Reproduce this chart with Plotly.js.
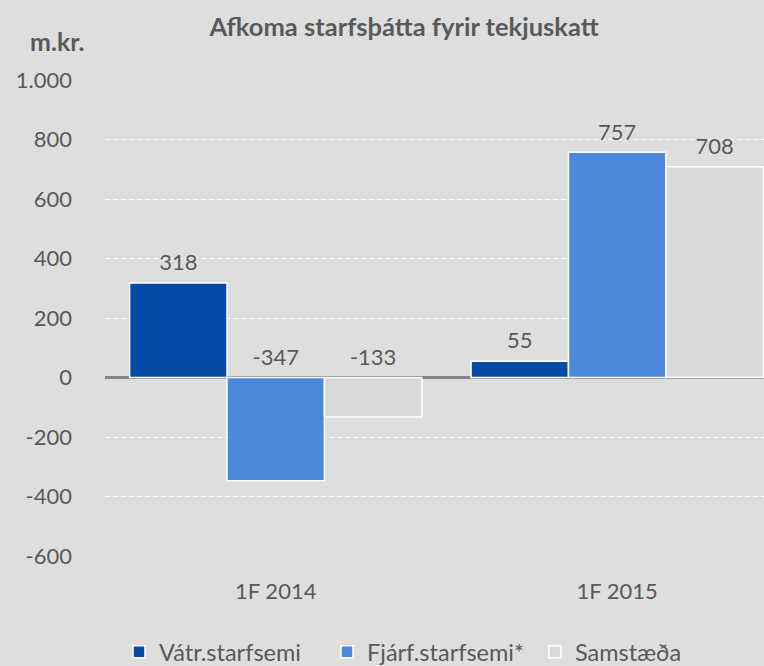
<!DOCTYPE html>
<html>
<head>
<meta charset="utf-8">
<script src="https://cdn.plot.ly/plotly-3.0.1.min.js"></script>
<style>html,body{margin:0;padding:0;overflow:hidden;background:#dedede;}</style>
</head>
<body>
<div id="chart" style="width:764px;height:666px;"></div>
<script>
const categories = ["1F 2014", "1F 2015"];
const seriesNames = ["Vátr.starfsemi", "Fjárf.starfsemi*", "Samstæða"];
const vatr = [318, 55];
const fjarf = [-347, 757];
const samst = [-133, 708];
const yTicks = [-600, -400, -200, 0, 200, 400, 600, 800, 1000];
const yTickText = ["-600", "-400", "-200", "0", "200", "400", "600", "800", "1.000"];

const colors = ["#074ba9", "#4b89dc", "#d9d9d9"];
const allValues = [vatr, fjarf, samst];
const FONT = "Lato, 'Open Sans', sans-serif";
const TXT = "#595959";

const traces = [];
allValues.forEach((vals, i) => {
  traces.push({
    type: "bar", x: categories, y: vals, name: seriesNames[i],
    offsetgroup: "g" + i, alignmentgroup: "a",
    marker: {color: colors[i], line: {color: "#ffffff", width: 1.5}},
    hoverinfo: "none"
  });
});
allValues.forEach((vals, i) => {
  traces.push({
    type: "scatter", mode: "markers+text", x: categories,
    y: vals.map(v => Math.max(v, 0)),
    text: vals.map(v => String(v)),
    textposition: "top center",
    marker: {size: 10, color: "rgba(0,0,0,0)"},
    textfont: {family: FONT, size: 22, color: TXT},
    offsetgroup: "g" + i, alignmentgroup: "a",
    showlegend: false, hoverinfo: "none", cliponaxis: false
  });
});

const layout = {
  width: 764, height: 666,
  paper_bgcolor: "#dedede", plot_bgcolor: "#dedede",
  margin: {l: 105, r: 0, t: 80, b: 110},
  barmode: "group", bargap: 0.144, bargroupgap: 0,
  scattermode: "group", scattergap: 0.144,
  font: {family: FONT, color: TXT, size: 22},
  title: {text: "<b>Afkoma starfsþátta fyrir tekjuskatt</b>", font: {family: FONT, size: 25.5, color: TXT},
          x: 404/764, xref: "container", xanchor: "center", y: 1 - 27/666, yref: "container", yanchor: "middle"},
  xaxis: {type: "category", range: [-0.5, 1.43], showgrid: false, zeroline: false, showline: false,
          ticks: "", tickfont: {family: FONT, size: 22, color: TXT}, ticklabelstandoff: 20, fixedrange: true},
  yaxis: {range: [-600, 1000], tickvals: yTicks, ticktext: yTickText,
          showgrid: true, gridcolor: "#ffffff", griddash: "5px,3px", gridwidth: 1,
          zeroline: true, zerolinecolor: "#858585", zerolinewidth: 2.5,
          showline: false, ticks: "", tickfont: {family: FONT, size: 22, color: TXT},
          ticklabelstandoff: 32, fixedrange: true},
  legend: {orientation: "h", xref: "container", yref: "container", x: 119/764, xanchor: "left",
           y: 1 - 652/666, yanchor: "middle", font: {family: FONT, size: 23.5, color: TXT},
           itemwidth: 30, entrywidth: 163, entrywidthmode: "pixels",
           bgcolor: "rgba(0,0,0,0)", traceorder: "normal"},
  annotations: [{text: "<b>m.kr.</b>", xref: "paper", yref: "paper", x: (57.5 - 105) / 659, xanchor: "center",
                 showarrow: false, y: (556 - 41) / 476, yanchor: "middle", font: {family: FONT, size: 25, color: TXT}}],
  showlegend: true
};

Plotly.newPlot("chart", traces, layout, {displayModeBar: false, staticPlot: true});
</script>
</body>
</html>
